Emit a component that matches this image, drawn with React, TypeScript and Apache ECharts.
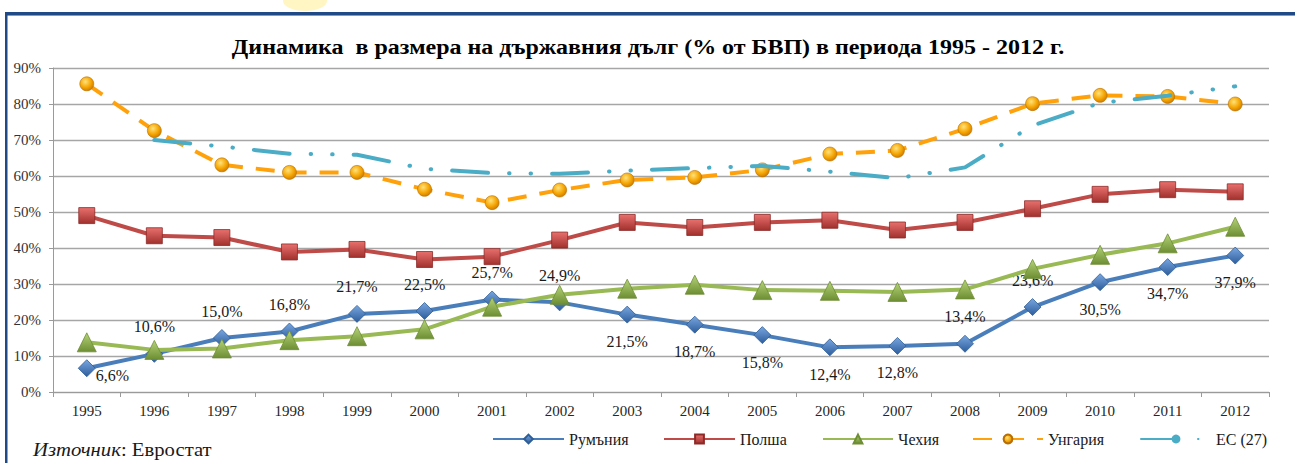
import React, { useEffect, useRef } from "react";
import * as echarts from "echarts";

const years = ["1995","1996","1997","1998","1999","2000","2001","2002","2003","2004","2005","2006","2007","2008","2009","2010","2011","2012"];
const romania = [6.6, 10.6, 15.0, 16.8, 21.7, 22.5, 25.7, 24.9, 21.5, 18.7, 15.8, 12.4, 12.8, 13.4, 23.6, 30.5, 34.7, 37.9];
const poland = [49.0, 43.4, 42.9, 38.9, 39.6, 36.8, 37.6, 42.2, 47.1, 45.7, 47.1, 47.7, 45.0, 47.1, 50.9, 54.9, 56.2, 55.6];
const czech = [13.8, 11.7, 12.1, 14.4, 15.5, 17.4, 23.7, 27.0, 28.7, 29.8, 28.3, 28.1, 27.8, 28.5, 34.2, 38.1, 41.3, 45.9];
const hungary = [85.6, 72.6, 63.1, 61.0, 61.0, 56.3, 52.6, 56.1, 58.9, 59.6, 61.7, 66.1, 67.1, 73.1, 80.1, 82.4, 82.1, 80.0];
const eu27 = [null, 70.0, 68.2, 66.2, 65.9, 62.0, 60.8, 60.6, 61.5, 62.2, 62.8, 61.2, 59.4, 62.4, 74.0, 80.3, 82.3, 84.9];
const yTicks = [0, 10, 20, 30, 40, 50, 60, 70, 80, 90];
const seriesNames = ["Румъния", "Полша", "Чехия", "Унгария", "ЕС (27)"];
const titleText = "Динамика  в размера на държавния дълг (% от БВП) в периода 1995 - 2012 г.";
const sourceLabel = "Източник";
const sourceValue = ": Евростат";

const romaniaLabelPos = ["right","top","top","top","top","top","top","top","bottom","bottom","bottom","bottom","bottom","top","top","bottom","bottom","bottom"];

const SERIF = "'Liberation Serif', 'Times New Roman', serif";

const grad = (top: string, bottom: string) =>
  new echarts.graphic.LinearGradient(0, 0, 0, 1, [
    { offset: 0, color: top },
    { offset: 1, color: bottom },
  ]);

export default function App() {
  const ref = useRef<HTMLDivElement>(null);
  useEffect(() => {
    if (!ref.current) return;
    const chart = echarts.init(ref.current, null, { renderer: "svg" });
    const fmt = (v: number) => v.toFixed(1).replace(".", ",") + "%";
    const romaniaData = romania.map((v, i) => {
      const pos = romaniaLabelPos[i];
      return {
        value: v,
        label: pos === "right"
          ? { position: "right", distance: 0, offset: [0, 7] }
          : { position: pos, distance: 10 },
      };
    });
    const legendBase = {
      bottom: 11,
      itemHeight: 11,
      itemGap: 0,
      textStyle: { fontFamily: SERIF, fontSize: 16, color: "#1a1a1a" },
    };
    chart.setOption({
      animation: false,
      backgroundColor: "#ffffff",
      legend: [
        { ...legendBase, left: 487, itemWidth: 71, data: [seriesNames[0]] },
        { ...legendBase, left: 658, itemWidth: 71, data: [seriesNames[1]] },
        { ...legendBase, left: 817, itemWidth: 70, data: [seriesNames[2]] },
        { ...legendBase, left: 967, itemWidth: 70, data: [seriesNames[3]] },
        { ...legendBase, left: 1135, itemWidth: 70, data: [seriesNames[4]] },
      ],
      grid: { left: 53, right: 26, top: 68, bottom: 71, containLabel: false },
      xAxis: {
        type: "category",
        data: years,
        boundaryGap: true,
        axisLine: { lineStyle: { color: "#9a9a9a", width: 1 } },
        axisTick: { show: true, length: 5, lineStyle: { color: "#9a9a9a" } },
        axisLabel: { fontFamily: SERIF, fontSize: 15, color: "#262626", margin: 11 },
      },
      yAxis: {
        type: "value",
        min: yTicks[0],
        max: yTicks[yTicks.length - 1],
        interval: 10,
        axisLine: { show: true, lineStyle: { color: "#9a9a9a" } },
        axisTick: { show: true, length: 4, lineStyle: { color: "#9a9a9a" } },
        splitLine: { lineStyle: { color: "#a6a6a6", width: 1.3 } },
        axisLabel: { fontFamily: SERIF, fontSize: 15, color: "#333", margin: 12, formatter: "{value}%" },
      },
      series: [
        {
          name: seriesNames[0],
          type: "line",
          data: romaniaData,
          symbol: "diamond",
          symbolSize: 17,
          lineStyle: { color: "#4A7EBB", width: 4 },
          itemStyle: { color: grad("#79A6E0", "#2D5D9C"), borderColor: "#2F5F98", borderWidth: 0.8 },
          label: {
            show: true,
            fontFamily: SERIF,
            fontSize: 16,
            color: "#1a1a1a",
            formatter: (p: any) => fmt(p.value),
          },
          z: 3,
        },
        {
          name: seriesNames[1],
          type: "line",
          data: poland,
          symbol: "rect",
          symbolSize: 16,
          lineStyle: { color: "#BE4B48", width: 4 },
          itemStyle: { color: grad("#E8706D", "#A1302D"), borderColor: "#8C2A28", borderWidth: 0.8 },
          z: 4,
        },
        {
          name: seriesNames[2],
          type: "line",
          data: czech,
          symbol: "triangle",
          symbolSize: 19,
          lineStyle: { color: "#98B954", width: 4 },
          itemStyle: { color: grad("#B5D47A", "#6E8E34"), borderColor: "#6E8E34", borderWidth: 0.8 },
          z: 5,
        },
        {
          name: seriesNames[3],
          type: "line",
          data: hungary,
          symbol: "circle",
          symbolSize: 14,
          lineStyle: { color: "#FFA10A", width: 4, type: [19, 13] },
          itemStyle: {
            color: new echarts.graphic.RadialGradient(0.4, 0.35, 0.7, [
              { offset: 0, color: "#FFE27A" },
              { offset: 0.6, color: "#F5A400" },
              { offset: 1, color: "#C97800" },
            ]),
            borderColor: "#B86E00",
            borderWidth: 0.6,
          },
          z: 6,
        },
        {
          name: seriesNames[4],
          type: "line",
          data: eu27,
          symbol: "none",
          showSymbol: false,
          connectNulls: false,
          lineStyle: { color: "#4BACC6", width: 4, type: [36, 21, 0.5, 21, 0.5, 21], cap: "round" },
          itemStyle: { color: "#4BACC6" },
          z: 7,
        },
      ],
      graphic: [
        { type: "ellipse", shape: { cx: 305, cy: 1, rx: 22, ry: 10 }, style: { fill: "#FFF6C4" }, z: -1 },
        { type: "rect", shape: { x: 5, y: 12, width: 1290, height: 3 }, style: { fill: "#1F4A85" } },
        { type: "rect", shape: { x: 5, y: 15, width: 1290, height: 1 }, style: { fill: "#7F9CC4" } },
        { type: "rect", shape: { x: 5, y: 12, width: 2.5, height: 451 }, style: { fill: "#1F4A85" } },
        {
          type: "text",
          x: 648,
          y: 47,
          scaleX: 1.2,
          style: {
            text: titleText,
            fontFamily: SERIF,
            fontSize: 20,
            fontWeight: "bold",
            fill: "#000",
            textAlign: "center",
            textVerticalAlign: "middle",
          },
        },
        {
          type: "text",
          x: 33,
          y: 450,
          scaleX: 1.15,
          style: {
            text: "{i|" + sourceLabel + "}{n|" + sourceValue + "}",
            textVerticalAlign: "middle",
            rich: {
              i: { fontFamily: SERIF, fontSize: 18, fontStyle: "italic", fill: "#1a1a1a" },
              n: { fontFamily: SERIF, fontSize: 18, fill: "#1a1a1a" },
            },
          },
        },
      ],
    });
    return () => chart.dispose();
  }, []);
  return (
    <div
      ref={ref}
      style={{ position: "absolute", left: 0, top: 0, width: 1295, height: 463 }}
    />
  );
}
